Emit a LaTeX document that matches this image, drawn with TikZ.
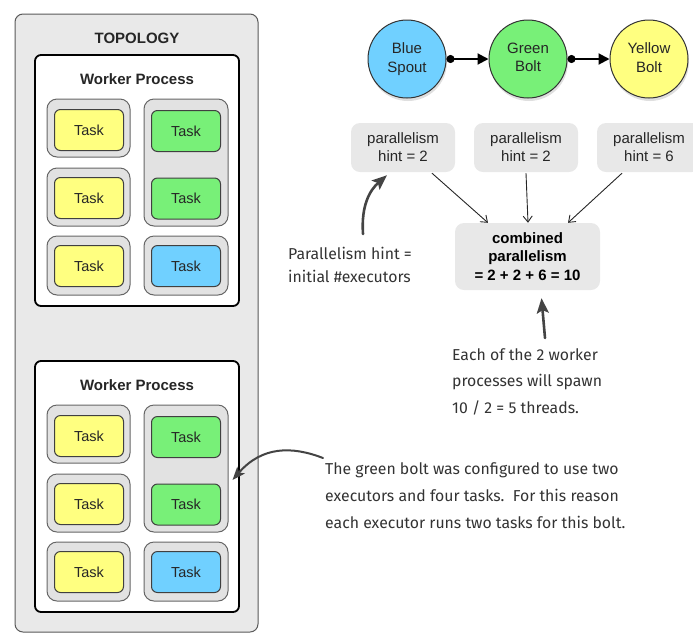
\documentclass[tikz,border=0pt]{standalone}
\usepackage{fontspec}
\setmainfont{Liberation Sans}
\newfontfamily\notefont{Fira Sans}
\usetikzlibrary{arrows.meta,shadows}

\definecolor{taskyellow}{HTML}{FFFF80}
\definecolor{taskgreen}{HTML}{78F078}
\definecolor{taskblue}{HTML}{70D0FF}
\definecolor{topofill}{HTML}{E9E9E9}
\definecolor{execfill}{HTML}{E2E2E2}
\definecolor{hintfill}{HTML}{E8E8E8}
\definecolor{inkgray}{HTML}{444444}

% One worker process box with its executors and tasks.
% #1 = name prefix, #2 = vertical offset
\newcommand\workerproc[2]{%
  \begin{scope}[shift={(0,#2)}]
    \node[worker] (#1box) at (137,180.5) {};
    \node[boxtitle] (#1title) at (137,79) {Worker Process};
    % executors
    \node[exec, minimum width=83pt, minimum height=58pt] (#1e1) at (88.5,128) {};
    \node[exec, minimum width=83pt, minimum height=58pt] (#1e2) at (88.5,197) {};
    \node[exec, minimum width=83pt, minimum height=59pt] (#1e3) at (88.5,265.5) {};
    \node[exec, minimum width=84pt, minimum height=127pt] (#1e4) at (186,162.5) {};
    \node[exec, minimum width=84pt, minimum height=59pt] (#1e5) at (186,265.5) {};
    % tasks
    \node[task, fill=taskyellow] (#1t1) at (89,130) {Task};
    \node[task, fill=taskyellow] (#1t2) at (89,198) {Task};
    \node[task, fill=taskyellow] (#1t3) at (89,266) {Task};
    \node[task, fill=taskgreen] (#1t4) at (186,131) {Task};
    \node[task, fill=taskgreen] (#1t5) at (186,198.5) {Task};
    \node[task, fill=taskblue] (#1t6) at (186,266) {Task};
  \end{scope}}

\begin{document}
\begin{tikzpicture}[x=1pt,y=-1pt,
  every node/.style={inner sep=0pt, font=\fontsize{15}{18}\selectfont},
  topo/.style={draw=black!65, line width=1pt, fill=topofill, rounded corners=8pt,
    minimum width=243pt, minimum height=618pt},
  worker/.style={draw=black, line width=1.8pt, fill=white, rounded corners=6pt,
    minimum width=204pt, minimum height=251pt},
  boxtitle/.style={font=\fontsize{15}{18}\selectfont\bfseries, text=black!85},
  exec/.style={draw=black!60, line width=1pt, fill=execfill, rounded corners=10pt},
  task/.style={draw=black!75, line width=1pt, rounded corners=6pt,
    minimum width=69pt, minimum height=41pt, text=black!85,
    font=\fontsize{14.5}{17}\selectfont},
  comp/.style={circle, draw=black!80, line width=1pt, minimum size=78pt,
    align=center, font=\fontsize{15}{18.5}\selectfont, text=black!85,
    drop shadow={opacity=0.25, shadow xshift=1pt, shadow yshift=-3pt}},
  flow/.style={line width=2pt, black,
    {Circle[length=8pt]}-{Triangle[length=11pt,width=11pt]}},
  hintbox/.style={fill=hintfill, rounded corners=9pt, minimum width=104pt,
    minimum height=49pt, align=center, text=black!85,
    font=\fontsize{15}{18}\selectfont},
  sumbox/.style={fill=hintfill, rounded corners=9pt, minimum width=145pt,
    minimum height=67pt, align=center,
    font=\fontsize{15}{18.5}\selectfont\bfseries},
  hintline/.style={line width=0.9pt, black!85, -{Straight Barb[length=6pt,width=9pt]}},
  note/.style={align=left, anchor=west, text=black!80},
  notearrow/.style={line width=2.6pt, inkgray, line cap=round,
    -{Stealth[length=15pt,width=12pt,inset=3pt]}},
]
\useasboundingbox (0,0) rectangle (693,633);

% topology container
\node[topo] (topo) at (136.5,323) {};
\node[boxtitle] (topotitle) at (137,38) {TOPOLOGY};

\workerproc{wa}{0}
\workerproc{wb}{306}

% spout and bolts
\node[comp, fill=taskblue] (spout) at (407,59) {Blue\\Spout};
\node[comp, fill=taskgreen] (gbolt) at (528,59) {Green\\Bolt\vphantom{p}};
\node[comp, fill=taskyellow] (ybolt) at (649,59) {Yellow\\Bolt\vphantom{p}};
\draw[flow] (spout) -- (gbolt);
\draw[flow] (gbolt) -- (ybolt);

% parallelism hints
\node[hintbox] (h1) at (403,147.5) {parallelism\\hint = 2};
\node[hintbox] (h2) at (526,147.5) {parallelism\\hint = 2};
\node[hintbox] (h3) at (649,147.5) {parallelism\\hint = 6};
\node[sumbox] (sum) at (527.5,256.5) {combined\\parallelism\\= 2 + 2 + 6 = 10};
\draw[hintline] ([xshift=29pt,yshift=-1pt]h1.south) -- ([xshift=-39.5pt]sum.north);
\draw[hintline] ([yshift=-1pt]h2.south) -- ([xshift=0.5pt]sum.north);
\draw[hintline] ([xshift=-27pt,yshift=-1pt]h3.south) -- ([xshift=40.5pt]sum.north);

% hand-written notes
\node[note, font=\notefont\fontsize{15.8}{23}\selectfont] (n1) at (288,264.5)
  {Parallelism hint =\\initial \#executors};
\node[note, font=\notefont\fontsize{15.8}{26.5}\selectfont] (n2) at (452,381.5)
  {Each of the 2 worker\\processes will spawn\\10 / 2 = 5 threads.};
\node[note, font=\notefont\fontsize{15.8}{27}\selectfont] (n3) at (325,496)
  {The green bolt was configured to use two\\executors and four tasks.\ \ For this reason\\each executor runs two tasks for this bolt.};

\coordinate (n1tail) at (363,234);
\coordinate (n2tail) at (545,338);
\coordinate (n3tail) at (323,458);
\draw[notearrow] (n1tail) .. controls (361,205) and (370,190) .. ([xshift=-16pt,yshift=-3pt]h1.south);
\draw[notearrow] (n2tail) -- ([xshift=14pt,yshift=-8pt]sum.south);
\draw[notearrow, line width=2pt, -{Stealth[length=13pt,width=10pt,inset=3pt]}]
  (n3tail) .. controls (292,446) and (262,446) .. ([xshift=4pt,yshift=-11.5pt]wbe4.east);
\end{tikzpicture}
\end{document}
